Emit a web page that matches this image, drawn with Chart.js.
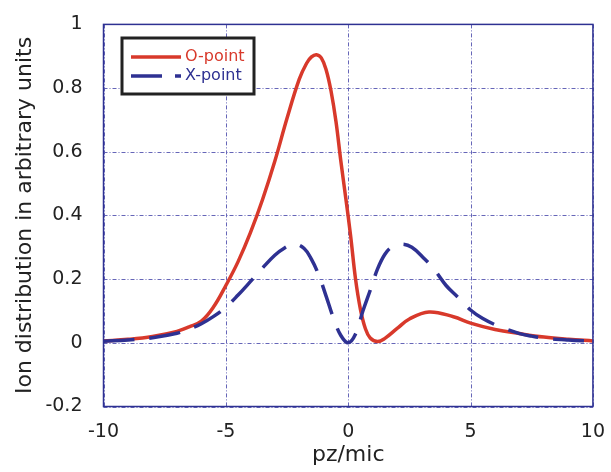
<!DOCTYPE html>
<html>
<head>
<meta charset="utf-8">
<script src="https://cdn.jsdelivr.net/npm/chart.js@4/dist/chart.umd.min.js"></script>
<style>
  html, body { margin: 0; padding: 0; background: #fff; }
  #wrap { width: 611px; height: 472px; }
</style>
</head>
<body>
<div id="wrap"><canvas id="c"></canvas></div>
<script>
// values
const oPointX = [-10, -9, -8, -7, -6.5, -6, -5.5, -5, -4.5, -4, -3.5, -3, -2.5, -2, -1.7, -1.5, -1.3, -1.1, -0.9, -0.7, -0.5, -0.3, -0.1, 0.1, 0.3, 0.5, 0.7, 0.9, 1.2, 1.5, 2, 2.5, 3.3, 4.3, 5, 6, 7, 8, 9, 10];
const oPointY = [0.006, 0.011, 0.02, 0.036, 0.05, 0.068, 0.113, 0.18, 0.255, 0.345, 0.45, 0.57, 0.705, 0.828, 0.878, 0.898, 0.905, 0.895, 0.857, 0.79, 0.695, 0.57, 0.455, 0.335, 0.20, 0.105, 0.045, 0.015, 0.004, 0.014, 0.045, 0.075, 0.097, 0.082, 0.062, 0.042, 0.029, 0.018, 0.011, 0.006];

const xPointX = [-10, -9, -8, -7, -6.5, -6, -5.5, -5, -4.5, -4, -3.5, -3, -2.6, -2.2, -1.8, -1.5, -1.2, -0.9, -0.6, -0.3, 0, 0.3, 0.6, 0.9, 1.2, 1.5, 1.8, 2.2, 2.6, 3.1, 3.5, 4, 4.5, 5, 5.5, 6, 6.5, 7, 7.5, 8, 9, 10];
const xPointY = [0.005, 0.009, 0.016, 0.03, 0.043, 0.06, 0.083, 0.112, 0.15, 0.192, 0.235, 0.275, 0.298, 0.31, 0.296, 0.262, 0.212, 0.146, 0.077, 0.023, 0, 0.028, 0.10, 0.165, 0.232, 0.278, 0.302, 0.31, 0.3, 0.265, 0.232, 0.18, 0.142, 0.103, 0.076, 0.057, 0.042, 0.029, 0.021, 0.015, 0.009, 0.005];

const xTicks = [-10, -5, 0, 5, 10];
const yTicks = [-0.2, 0, 0.2, 0.4, 0.6, 0.8, 1];

const RED = "#d8392b";
const BLUE = "#2e3192";
const GRID = "#6666b8";
const FONT = "'DejaVu Sans', 'Noto Sans', sans-serif";

const pts = (X, Y) => X.map((x, i) => ({ x, y: Y[i] }));

// dash-dot grid, drawn by hand
const dashGrid = {
    id: "dashGrid",
    beforeDatasetsDraw(chart) {
        const { ctx, chartArea: { left, right, top, bottom }, scales: { x, y } } = chart;
        ctx.save();
        ctx.setLineDash([4, 2, 1, 2]);
        ctx.strokeStyle = GRID;
        ctx.lineWidth = 1;
        xTicks.forEach(v => {
            const p = Math.round(x.getPixelForValue(v)) + 0.5;
            ctx.beginPath(); ctx.moveTo(p, top); ctx.lineTo(p, bottom); ctx.stroke();
        });
        yTicks.forEach(v => {
            const p = Math.round(y.getPixelForValue(v)) + 0.5;
            ctx.beginPath(); ctx.moveTo(left, p); ctx.lineTo(right, p); ctx.stroke();
        });
        ctx.restore();
    }
};

// the dashed curve: one single path through the dataset's own points
// and the control points chart.js worked out for them
const dashedCurve = {
    id: "dashedCurve",
    afterDatasetsDraw(chart) {
        const p = chart.getDatasetMeta(1).data;
        if (!p.length) return;
        const ctx = chart.ctx;
        const a = chart.chartArea;
        ctx.save();
        ctx.beginPath();
        ctx.rect(a.left, a.top, a.right - a.left, a.bottom - a.top);
        ctx.clip();
        ctx.beginPath();
        ctx.moveTo(p[0].x, p[0].y);
        for (let i = 1; i < p.length; i++) {
            ctx.bezierCurveTo(p[i - 1].cp2x, p[i - 1].cp2y, p[i].cp1x, p[i].cp1y, p[i].x, p[i].y);
        }
        ctx.lineWidth = 3.5;
        ctx.lineCap = "butt";
        ctx.strokeStyle = BLUE;
        ctx.setLineDash([31, 15]);
        ctx.lineDashOffset = 0;
        ctx.stroke();
        ctx.restore();
    }
};

// legend drawn in the upper left of the plot, like the original
const boxLegend = {
    id: "boxLegend",
    afterDraw(chart) {
        const ctx = chart.ctx;
        const left = 122, top = 38, w = 132, h = 56;
        ctx.save();
        ctx.fillStyle = "#fff";
        ctx.fillRect(left, top, w, h);
        ctx.lineWidth = 3;
        ctx.strokeStyle = "#222";
        ctx.strokeRect(left, top, w, h);
        ctx.lineWidth = 3.5;
        ctx.strokeStyle = RED;
        ctx.beginPath(); ctx.moveTo(131, 57); ctx.lineTo(181, 57); ctx.stroke();
        ctx.strokeStyle = BLUE;
        ctx.setLineDash([31, 13]);
        ctx.beginPath(); ctx.moveTo(131, 76); ctx.lineTo(181, 76); ctx.stroke();
        ctx.setLineDash([]);
        ctx.font = "16px " + FONT;
        ctx.textBaseline = "middle";
        ctx.fillStyle = RED;
        ctx.fillText("O-point", 185, 57);
        ctx.fillStyle = BLUE;
        ctx.fillText("X-point", 185, 76);
        ctx.restore();
    }
};

// solid frame round the plot area
const frame = {
    id: "frame",
    afterDatasetsDraw(chart) {
        const { left, right, top, bottom } = chart.chartArea;
        const ctx = chart.ctx;
        ctx.save();
        ctx.setLineDash([]);
        ctx.lineWidth = 1.5;
        ctx.strokeStyle = BLUE;
        ctx.strokeRect(left, top, right - left, bottom - top);
        ctx.restore();
    }
};

new Chart(document.getElementById("c"), {
    type: "line",
    data: {
        datasets: [
            {
                label: "O-point",
                data: pts(oPointX, oPointY),
                borderColor: RED,
                borderWidth: 3.5,
                pointRadius: 0,
                tension: 0.4
            },
            {
                label: "X-point",
                data: pts(xPointX, xPointY),
                borderColor: "rgba(0,0,0,0)",
                borderWidth: 0,
                pointRadius: 0,
                tension: 0.4
            }
        ]
    },
    options: {
        responsive: true,
        maintainAspectRatio: false,
        animation: false,
        layout: { padding: { top: 13.5, right: 15, left: 0, bottom: 0 } },
        plugins: { legend: { display: false }, tooltip: { enabled: false } },
        scales: {
            x: {
                type: "linear",
                min: -10,
                max: 10,
                afterBuildTicks: s => { s.ticks = xTicks.map(v => ({ value: v })); },
                afterFit: s => { s.height = 65.5; },
                border: { display: false },
                grid: { display: false },
                ticks: { color: "#222", font: { size: 19, family: FONT }, padding: 6, maxRotation: 0 },
                title: { display: true, text: "pz/mic", color: "#222", font: { size: 22, family: FONT }, padding: { top: 0, bottom: 4 } }
            },
            y: {
                min: -0.2,
                max: 1,
                afterBuildTicks: s => { s.ticks = yTicks.map(v => ({ value: v })); },
                afterFit: s => { s.width = 103.5; },
                border: { display: false },
                grid: { display: false },
                ticks: { color: "#222", font: { size: 19, family: FONT }, padding: 13, callback: v => String(Math.round(v * 10) / 10) },
                title: { display: true, text: "Ion distribution in arbitrary units", color: "#222", font: { size: 22, family: FONT }, padding: { top: 12, bottom: 0 } }
            }
        }
    },
    plugins: [dashGrid, dashedCurve, frame, boxLegend]
});
</script>
</body>
</html>
